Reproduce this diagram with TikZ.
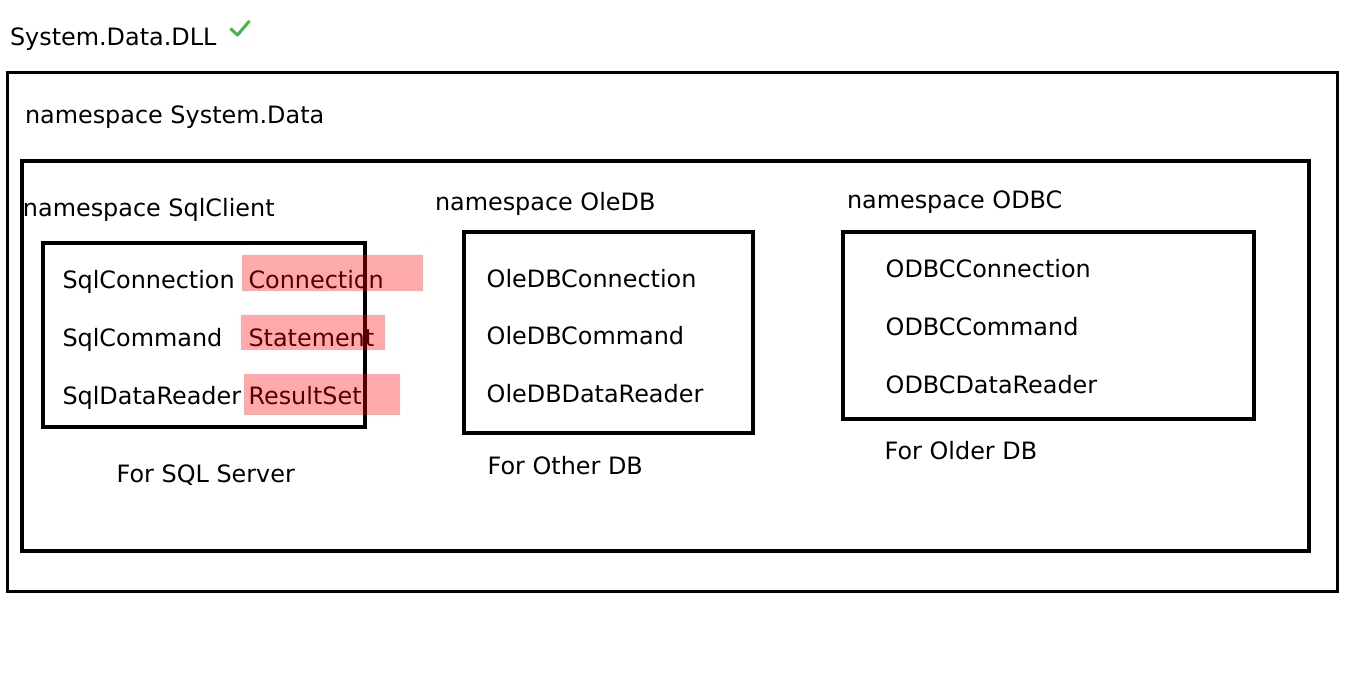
\documentclass[tikz,border=0pt]{standalone}
\usepackage{fontspec}
\setmainfont{DejaVu Sans}
\definecolor{hl}{RGB}{255,0,0}
\definecolor{okgreen}{RGB}{68,184,68}
\tikzset{
  lbl/.style={anchor=base west, inner sep=0pt, outer sep=0pt, font=\fontsize{23.9}{28}\selectfont},
  frame/.style={draw=black, line width=3.7pt, inner sep=0pt, outer sep=0pt, anchor=north west},
  hlbox/.style={fill=hl, fill opacity=0.333, draw=none, inner sep=0pt, outer sep=0pt, anchor=north west},
}
\begin{document}
\begin{tikzpicture}[x=1pt,y=-1pt]
\useasboundingbox (0,0) rectangle (1366,697);
% frames
\node[frame, minimum width=1330pt, minimum height=519pt] (dll) at (7.5,72.5) {};
\node[frame, minimum width=1287pt, minimum height=390pt] (sysdata) at (22,161) {};
\node[frame, minimum width=322pt, minimum height=183.5pt] (sqlbox) at (43.3,243.3) {};
\node[frame, minimum width=289pt, minimum height=201.6pt] (olebox) at (464.3,231.7) {};
\node[frame, minimum width=410.7pt, minimum height=186.7pt] (odbcbox) at (843.3,232.3) {};
% title and check
\node[lbl] (title) at (10,45) {System.Data.DLL};
\coordinate (c1) at (231,29);
\coordinate (c2) at (237.5,35);
\coordinate (c3) at (249,21.5);
\draw[okgreen, line width=3pt, line cap=round, line join=round] (c1) -- (c2) -- (c3);
% namespaces
\node[lbl] (nsdata) at (25,123) {namespace System.Data};
\node[lbl] (nssql) at (23,216) {namespace SqlClient};
\node[lbl] (nsole) at (435,210) {namespace OleDB};
\node[lbl] (nsodbc) at (847,208) {namespace ODBC};
% SqlClient
\node[lbl] (sqlconn) at (62.5,288) {SqlConnection};
\node[lbl] (sqlcmd) at (62.5,346) {SqlCommand};
\node[lbl] (sqlrdr) at (62.5,404) {SqlDataReader};
\node[lbl] (jconn) at (248.5,288) {Connection};
\node[lbl] (jstmt) at (248.5,346) {Statement};
\node[lbl] (jrs) at (248.5,404) {ResultSet};
\node[lbl] (forsql) at (116.7,482) {For SQL Server};
% OleDB
\node[lbl] (oleconn) at (486.7,287) {OleDBConnection};
\node[lbl] (olecmd) at (486.7,344) {OleDBCommand};
\node[lbl] (olerdr) at (486.7,402) {OleDBDataReader};
\node[lbl] (forole) at (487.7,474) {For Other DB};
% ODBC
\node[lbl] (odbcconn) at (885.7,277) {ODBCConnection};
\node[lbl] (odbccmd) at (885.7,335) {ODBCCommand};
\node[lbl] (odbcrdr) at (885.7,393) {ODBCDataReader};
\node[lbl] (forodbc) at (884.7,459) {For Older DB};
% highlights
\node[hlbox, minimum width=181pt, minimum height=36pt] (hl1) at (241.7,255) {};
\node[hlbox, minimum width=144pt, minimum height=35pt] (hl2) at (241,315) {};
\node[hlbox, minimum width=156pt, minimum height=41pt] (hl3) at (244,374) {};
\end{tikzpicture}
\end{document}
